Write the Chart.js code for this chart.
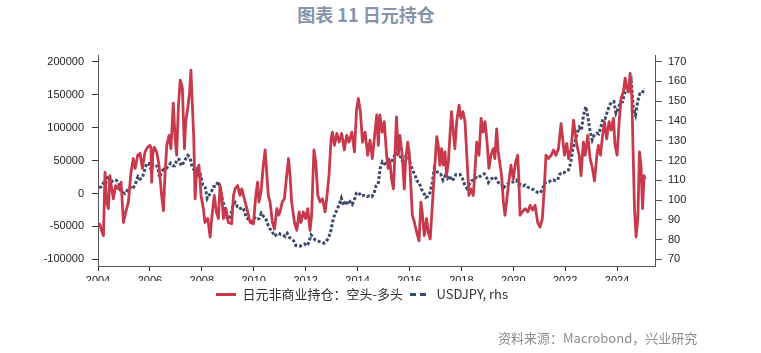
<!DOCTYPE html>
<html>
<head>
<meta charset="utf-8">
<script src="https://cdn.jsdelivr.net/npm/chart.js@4.4.1/dist/chart.umd.min.js"></script>
<style>
  html, body { margin: 0; padding: 0; background: #fff; }
  body { width: 761px; height: 353px; position: relative; overflow: hidden; }
  #title { position: absolute; left: 0; width: 732px; top: 4px; line-height: 20px; text-align: center;
           font-family: "Noto Sans CJK SC", sans-serif; font-weight: bold; font-size: 18px; color: #8494ab; }
  #chart-box { position: absolute; left: 0; top: 0; width: 724px; height: 353px; }
  #source { position: absolute; left: 498px; top: 330px; line-height: 16px;
            font-family: "Noto Sans CJK SC", sans-serif; font-size: 13px; color: #8c8c8c; }
</style>
</head>
<body>
<div id="title">图表 11 日元持仓</div>
<div id="chart-box"><canvas id="chart"></canvas></div>
<div id="source">资料来源：Macrobond，兴业研究</div>
<script>
// Tick labels
const xTicks = [2004, 2006, 2008, 2010, 2012, 2014, 2016, 2018, 2020, 2022, 2024];
const leftTicks = [-100000, -50000, 0, 50000, 100000, 150000, 200000];
const rightTicks = [70, 80, 90, 100, 110, 120, 130, 140, 150, 160, 170];

// Yen non-commercial positions: short minus long
const redYears = [
  2004.02, 2004.08, 2004.15, 2004.21, 2004.27, 2004.33, 2004.40, 2004.46, 2004.53, 2004.59, 2004.68, 2004.78, 2004.89, 2004.98,
  2005.07, 2005.17, 2005.27, 2005.36, 2005.43, 2005.53, 2005.62, 2005.71, 2005.81, 2005.91, 2006.00, 2006.04, 2006.07, 2006.11,
  2006.17, 2006.26, 2006.35, 2006.45, 2006.52, 2006.58, 2006.65, 2006.74, 2006.81, 2006.90, 2006.97,
  2007.03, 2007.10, 2007.17, 2007.25, 2007.33, 2007.38, 2007.46, 2007.53, 2007.58, 2007.64, 2007.69, 2007.74, 2007.80, 2007.89, 2007.97,
  2008.06, 2008.12, 2008.23, 2008.32, 2008.38, 2008.48, 2008.56, 2008.64, 2008.70, 2008.77, 2008.83, 2008.93,
  2009.02, 2009.15, 2009.22, 2009.28, 2009.38, 2009.47, 2009.54, 2009.67, 2009.77, 2009.86, 2009.99,
  2010.08, 2010.15, 2010.20, 2010.28, 2010.37, 2010.44, 2010.50, 2010.56, 2010.63, 2010.72, 2010.80, 2010.89, 2010.95,
  2011.01, 2011.10, 2011.18, 2011.27, 2011.34, 2011.40, 2011.46, 2011.57, 2011.66, 2011.75, 2011.82, 2011.91,
  2012.00, 2012.08, 2012.17, 2012.23, 2012.32, 2012.39, 2012.47, 2012.56, 2012.65, 2012.75, 2012.81, 2012.90, 2012.98,
  2013.03, 2013.11, 2013.20, 2013.29, 2013.39, 2013.49, 2013.58, 2013.67, 2013.78, 2013.88, 2013.96,
  2014.03, 2014.11, 2014.19, 2014.29, 2014.39, 2014.48, 2014.57, 2014.67, 2014.74, 2014.80, 2014.86, 2014.95,
  2015.03, 2015.12, 2015.18, 2015.25, 2015.31, 2015.38, 2015.44, 2015.50, 2015.57, 2015.63, 2015.72, 2015.80, 2015.85, 2015.93, 2015.99,
  2016.06, 2016.11, 2016.19, 2016.28, 2016.37, 2016.44, 2016.49, 2016.57, 2016.66, 2016.72, 2016.80, 2016.88, 2016.96,
  2017.05, 2017.11, 2017.17, 2017.24, 2017.30, 2017.37, 2017.43, 2017.50, 2017.56, 2017.62, 2017.69, 2017.75, 2017.82, 2017.91, 2017.98,
  2018.06, 2018.14, 2018.21, 2018.29, 2018.37, 2018.46, 2018.52, 2018.59, 2018.68, 2018.76, 2018.83, 2018.91, 2018.99,
  2019.06, 2019.14, 2019.23, 2019.29, 2019.36, 2019.42, 2019.49, 2019.55, 2019.62, 2019.68, 2019.74, 2019.81, 2019.91, 2020.00,
  2020.09, 2020.17, 2020.22, 2020.26, 2020.35, 2020.46, 2020.56, 2020.65, 2020.74, 2020.84, 2020.94,
  2021.03, 2021.12, 2021.20, 2021.26, 2021.35, 2021.46, 2021.55, 2021.64, 2021.74, 2021.84, 2021.89, 2021.97,
  2022.06, 2022.13, 2022.23, 2022.32, 2022.38, 2022.45, 2022.54, 2022.61, 2022.70, 2022.77, 2022.87, 2022.96,
  2023.05, 2023.13, 2023.22, 2023.28, 2023.36, 2023.44, 2023.51, 2023.60, 2023.69, 2023.77, 2023.86, 2023.92,
  2024.00, 2024.08, 2024.15, 2024.24, 2024.31, 2024.37, 2024.44, 2024.50, 2024.57, 2024.62, 2024.67, 2024.73, 2024.80, 2024.86, 2024.92, 2024.98,
  2025.04, 2025.08
];
const redValues = [
  -45000, -48000, -58000, -64000, 32000, -13000, -23000, 27000, 7000, -8000, 12000, 7000, 17000, -44000,
  -28000, -13000, 32000, 53000, 38000, 58000, 61000, 38000, 63000, 70000, 73000, 70000, 17000, 60000,
  70000, 63000, 43000, -3000, -26000, 27000, 73000, 88000, 68000, 137000, 84000,
  58000, 134000, 172000, 160000, 68000, 109000, 130000, 154000, 187000, 130000, 84000, -8000, 32000, 43000, -3000,
  -23000, -44000, -38000, -66000, -38000, -3000, -28000, -38000, 12000, -3000, -38000, -23000,
  -44000, -46000, -3000, 7000, 12000, -3000, 7000, -13000, -28000, -44000, -46000,
  -3000, 17000, -13000, 2000, 43000, 66000, 32000, -3000, -13000, -44000, -54000, -23000, -33000,
  -28000, -13000, -8000, 27000, 53000, 27000, -13000, -44000, -56000, -28000, -44000, -28000,
  -38000, -23000, -56000, -33000, 66000, 48000, -3000, -13000, -8000, -28000, -8000, 27000, 83000,
  93000, 73000, 91000, 78000, 91000, 66000, 88000, 78000, 93000, 63000, 126000,
  144000, 124000, 78000, 93000, 58000, 81000, 53000, 93000, 119000, 73000, 119000, 93000,
  109000, 58000, 38000, 48000, 22000, 7000, 58000, 116000, 58000, 88000, 58000, 7000, 48000, 78000, 63000,
  7000, -33000, -44000, -59000, -72000, -13000, -28000, -64000, -38000, -59000, -69000, -18000, 32000,
  86000, 73000, 43000, 68000, 43000, 63000, 27000, 48000, 88000, 124000, 93000, 68000, 109000, 134000, 114000,
  124000, 109000, 58000, -3000, 7000, -3000, 32000, 78000, 58000, 114000, 93000, 109000, 78000,
  38000, 58000, 68000, 53000, 98000, 63000, 43000, 27000, -13000, -33000, -13000, 12000, 43000, 22000,
  48000, 58000, 17000, -33000, -28000, -23000, -28000, -18000, -25000, -18000, -44000,
  -51000, -38000, 12000, 58000, 53000, 58000, 66000, 58000, 68000, 106000, 88000, 58000,
  76000, 53000, 68000, 111000, 93000, 73000, 58000, 27000, 78000, 58000, 88000, 53000,
  38000, 19000, 58000, 73000, 58000, 88000, 109000, 83000, 109000, 96000, 114000, 73000,
  58000, 109000, 144000, 154000, 175000, 160000, 154000, 182000, 144000, 58000, -23000, -66000, -38000, 63000, 43000, -23000,
  27000, 22000
];

// USDJPY, monthly from Jan 2004 to Jan 2025
const usdjpy = [
  106.3, 106.7, 108.5, 107.7, 112.2, 109.4, 109.5, 110.2, 110.0, 108.8, 104.7, 103.8,
  103.3, 104.9, 105.3, 107.4, 106.6, 108.8, 111.9, 110.6, 111.2, 114.9, 118.5, 118.5,
  115.5, 117.9, 117.3, 117.1, 111.5, 114.6, 115.7, 115.9, 117.0, 118.6, 117.3, 117.3,
  120.6, 120.5, 117.3, 118.8, 120.8, 122.6, 121.6, 116.7, 115.0, 115.8, 111.2, 112.4,
  107.8, 107.0, 100.8, 102.7, 104.4, 106.9, 106.9, 109.4, 106.6, 100.1, 96.9, 91.3,
  90.1, 92.9, 97.9, 98.8, 96.6, 96.6, 94.5, 95.0, 91.2, 90.4, 89.1, 89.5,
  91.1, 90.1, 90.7, 93.4, 91.8, 90.9, 87.7, 85.4, 84.4, 81.8, 82.5, 83.3,
  82.6, 82.5, 81.6, 83.2, 81.1, 80.4, 79.4, 77.0, 76.8, 76.7, 77.5, 77.8,
  76.9, 78.5, 82.4, 81.3, 79.7, 79.3, 79.0, 78.7, 78.2, 78.9, 80.9, 83.6,
  89.1, 93.1, 94.9, 97.8, 101.0, 97.3, 99.7, 97.8, 99.2, 97.8, 100.0, 103.5,
  103.9, 102.1, 102.3, 102.5, 101.8, 102.1, 101.7, 102.9, 107.1, 108.0, 116.2, 119.4,
  118.3, 118.8, 120.4, 119.5, 120.8, 123.7, 123.3, 123.1, 120.1, 120.1, 122.6, 121.6,
  118.2, 115.0, 112.9, 109.6, 108.9, 105.5, 104.0, 101.3, 101.9, 103.8, 108.6, 116.1,
  114.9, 113.1, 112.9, 110.1, 112.2, 110.9, 112.4, 109.8, 110.8, 112.9, 112.8, 112.9,
  110.9, 107.8, 106.0, 107.6, 109.7, 110.1, 111.5, 111.0, 111.9, 112.8, 113.3, 112.0,
  108.9, 110.5, 111.1, 111.7, 110.0, 108.1, 108.3, 106.2, 107.5, 108.2, 108.9, 109.1,
  109.3, 110.0, 107.7, 107.8, 107.2, 107.6, 106.7, 106.0, 105.6, 105.2, 104.4, 103.7,
  103.7, 105.4, 108.7, 109.0, 109.1, 110.1, 110.2, 109.8, 110.2, 113.1, 114.0, 113.8,
  114.8, 115.2, 118.5, 126.2, 128.8, 133.9, 136.7, 135.2, 143.1, 147.2, 142.0, 134.8,
  130.4, 133.0, 133.8, 133.4, 137.0, 141.2, 141.2, 144.8, 147.9, 149.6, 149.8, 143.9,
  146.3, 149.6, 149.7, 154.0, 155.9, 158.5, 160.5, 146.3, 143.0, 149.7, 153.7, 153.7,
  156.5
];
const usdjpyYears = usdjpy.map((v, i) => 2004 + (i + 0.5) / 12);

const RED = "#c8394b";
const BLUE = "#3d4b6b";
const tickFont = { family: "Liberation Sans", size: 11 };

const ctx = document.getElementById("chart").getContext("2d");
new Chart(ctx, {
    type: "line",
    data: {
        datasets: [{
            label: "日元非商业持仓：空头-多头",
            data: redYears.map((x, i) => ({ x, y: redValues[i] })),
            yAxisID: "y",
            borderColor: RED,
            backgroundColor: RED,
            borderWidth: 2.8,
            borderJoinStyle: "round",
            pointRadius: 0,
            tension: 0
        }, {
            label: "USDJPY, rhs",
            data: usdjpyYears.map((x, i) => ({ x, y: usdjpy[i] })),
            yAxisID: "y2",
            borderColor: BLUE,
            backgroundColor: BLUE,
            borderWidth: 3,
            borderDash: [3, 2],
            pointRadius: 0,
            tension: 0
        }]
    },
    options: {
        responsive: true,
        maintainAspectRatio: false,
        animation: false,
        layout: { padding: { top: 55, left: 0, right: 0, bottom: 42 } },
        scales: {
            x: {
                type: "linear",
                min: 2004,
                max: 2025.46,
                afterBuildTicks: s => { s.ticks = xTicks.map(v => ({ value: v })); },
                afterFit: s => { s.height = 15; },
                ticks: { callback: v => String(v), font: tickFont, color: "#222", padding: 3, maxRotation: 0, autoSkip: false },
                grid: { display: true, drawOnChartArea: false, drawTicks: true, tickLength: 5, color: "#333" },
                border: { color: "#555", width: 1 }
            },
            y: {
                position: "left",
                min: -110000,
                max: 210000,
                afterBuildTicks: s => { s.ticks = leftTicks.map(v => ({ value: v })); },
                afterFit: s => { s.width = 98; },
                ticks: { callback: v => String(v), font: tickFont, color: "#222", padding: 8 },
                grid: { display: true, drawOnChartArea: false, drawTicks: true, tickLength: 6, color: "#333" },
                border: { color: "#555", width: 1 }
            },
            y2: {
                position: "right",
                min: 66.667,
                max: 173.333,
                afterBuildTicks: s => { s.ticks = rightTicks.map(v => ({ value: v })); },
                afterFit: s => { s.width = 69; },
                ticks: { callback: v => String(v), font: tickFont, color: "#222", padding: 6 },
                grid: { display: true, drawOnChartArea: false, drawTicks: true, tickLength: 7, color: "#555" },
                border: { color: "#555", width: 1 }
            }
        },
        plugins: {
            tooltip: { enabled: false },
            legend: {
                position: "bottom",
                labels: {
                    usePointStyle: true,
                    pointStyle: "line",
                    pointStyleWidth: 20,
                    padding: 7,
                    color: "#333",
                    font: { family: "Noto Sans CJK SC", size: 13 },
                    generateLabels: chart => {
                        const items = Chart.defaults.plugins.legend.labels.generateLabels(chart);
                        items.forEach((it, i) => {
                            it.lineWidth = 3;
                            it.lineDash = i === 1 ? [6, 4] : [];
                        });
                        return items;
                    }
                }
            }
        }
    }
});
</script>
</body>
</html>
